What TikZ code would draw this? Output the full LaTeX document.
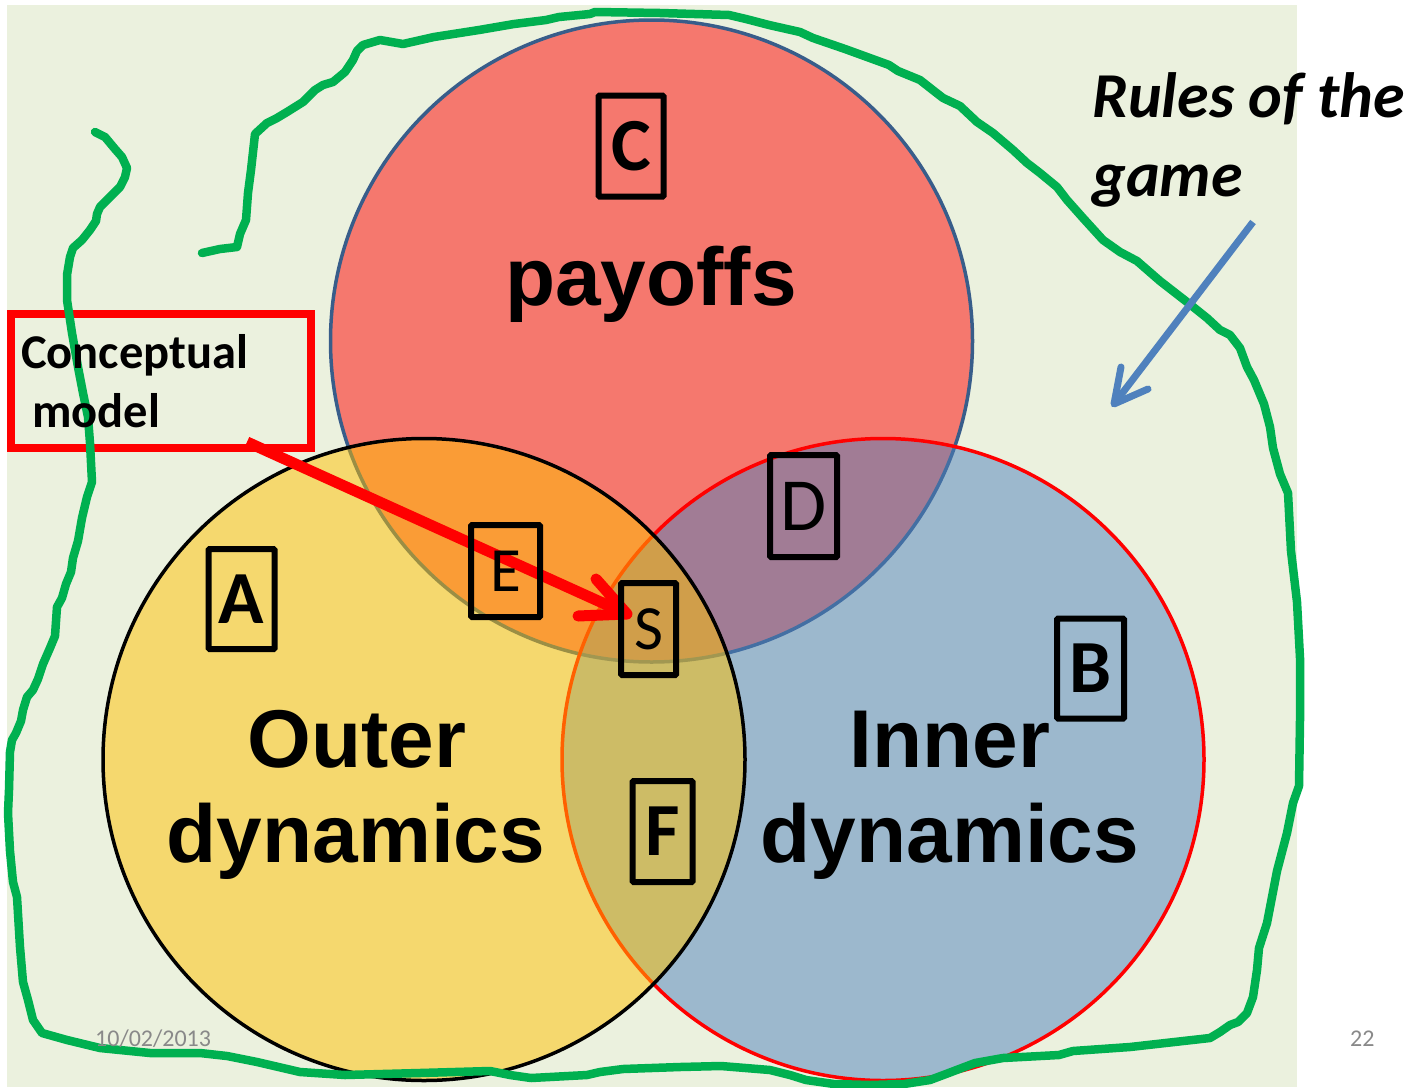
\documentclass[tikz,border=0pt]{standalone}
\usepackage{fontspec}
\setmainfont{Carlito}
\newfontfamily\arialfont{Liberation Sans}
\usetikzlibrary{calc}

\definecolor{slidebg}{RGB}{235,241,222}
\definecolor{gamegreen}{RGB}{0,176,80}
\definecolor{accentblue}{RGB}{79,129,189}
\definecolor{outlineblue}{RGB}{56,93,138}
\definecolor{amber}{RGB}{255,192,0}
\definecolor{footgray}{RGB}{137,137,137}

\tikzset{
  setcircle/.style={circle, inner sep=0pt, outer sep=0pt, minimum size=642pt,
    fill opacity=0.5, draw opacity=1, line width=3.5pt},
  letterbox/.style={draw, line width=6pt, rounded corners=1pt, inner sep=0pt,
    font=\fontsize{75}{75}\selectfont},
  smallbox/.style={letterbox, font=\fontsize{63}{63}\selectfont},
  biglabel/.style={anchor=base, inner sep=0pt, font=\arialfont\bfseries\fontsize{82}{82}\selectfont},
  notelabel/.style={anchor=base west, inner sep=0pt, font=\bfseries\fontsize{48.5}{48.5}\selectfont},
  ruleslabel/.style={anchor=base west, inner sep=0pt, font=\bfseries\itshape\fontsize{64}{64}\selectfont},
  footer/.style={anchor=base west, inner sep=0pt, text=footgray, font=\fontsize{24}{24}\selectfont},
  pointer/.style={line width=11pt, red},
  tipstroke/.style={line cap=round, line join=round},
}

\begin{document}
\begin{tikzpicture}[x=1pt,y=-1pt]
\useasboundingbox (0,0) rectangle (1416,1087);
\fill[white] (0,0) rectangle (1416,1087);
\fill[slidebg] (7,5) rectangle (1297,1087);

% the three overlapping sets
\node[setcircle, fill=red, draw=outlineblue] (payoffset) at (651.5,341) {};
\node[setcircle, fill=accentblue, draw=red] (innerset) at (883,759.5) {};
\node[setcircle, fill=amber, draw=black] (outerset) at (424,759.5) {};

% arrow from the conceptual model to S
\coordinate (rstart) at (247,442);
\coordinate (rtip) at (627,614);
\coordinate (rbarbA) at (596,579);
\coordinate (rbarbB) at (578,616);
\draw[pointer] (rstart) -- (rtip);
\draw[pointer, tipstroke] (rbarbA) -- (rtip) -- (rbarbB);

% lettered regions
\node[letterbox, minimum width=65pt, minimum height=101pt] (boxC) at (631,146) {\bfseries C};
\node[letterbox, minimum width=66pt, minimum height=100pt] (boxA) at (241.5,599) {\bfseries A};
\node[letterbox, minimum width=67pt, minimum height=100pt] (boxB) at (1090.5,668.5) {\bfseries B};
\node[letterbox, minimum width=60pt, minimum height=101pt] (boxF) at (662.5,831.5) {\bfseries F};
\node[letterbox, minimum width=67pt, minimum height=102pt] (boxD) at (803.5,506) {D};
\node[smallbox, minimum width=69pt, minimum height=92pt] (boxE) at (505.5,571) {E};
\node[smallbox, minimum width=55pt, minimum height=92pt] (boxS) at (648.5,629) {S};

% set names
\node[biglabel] (payofftext) at (651,305) {payoffs};
\node[biglabel] (outertextA) at (357,767) {Outer};
\node[biglabel] (outertextB) at (356,862) {dynamics};
\node[biglabel] (innertextA) at (950,767) {Inner};
\node[biglabel] (innertextB) at (950,862) {dynamics};

% conceptual model frame
\node[draw=red, line width=8pt, inner sep=0pt, minimum width=300pt, minimum height=134pt] (cmbox) at (161,381) {};

% rules of the game boundary
\draw[gamegreen, line width=8.5pt, line cap=round, line join=round]
  (95,132) -- (105,137) -- (115,149) -- (122,157) -- (127,168) -- (125,177) -- (120,187)
  -- (110,197) -- (100,207) -- (97,214) -- (96,221) -- (90,230) -- (82,240) -- (73,248)
  -- (70,257) -- (67,275) -- (67,300) -- (72,333) -- (78,367) -- (83,393) -- (88,417)
  -- (90,443) -- (92,482) -- (87,497) -- (82,518) -- (78,541) -- (73,558) -- (71,572)
  -- (66,584) -- (62,598) -- (57,607) -- (55,636) -- (50,648) -- (43,664) -- (38,679)
  -- (33,690) -- (27,697) -- (23,710) -- (21,721) -- (16,733) -- (12,740) -- (10,752)
  -- (9,790) -- (8,813) -- (10,851) -- (13,882) -- (17,897) -- (20,947) -- (23,982)
  -- (28,1000) -- (33,1020) -- (42,1033) -- (67,1040) -- (100,1048) -- (150,1053)
  -- (200,1053) -- (227,1056) -- (257,1062) -- (300,1072) -- (345,1075) -- (420,1073)
  -- (490,1071) -- (510,1075) -- (531,1078) -- (587,1075) -- (600,1072) -- (623,1069)
  -- (680,1067) -- (721,1066) -- (770,1070) -- (790,1075) -- (806,1080) -- (834,1084)
  -- (870,1085) -- (904,1084) -- (930,1080) -- (946,1074) -- (975,1063) -- (1003,1058)
  -- (1059,1055) -- (1073,1051) -- (1130,1047) -- (1210,1038) -- (1220,1032) -- (1230,1025)
  -- (1238,1022) -- (1247,1013) -- (1253,997) -- (1257,970) -- (1259,948) -- (1267,923)
  -- (1277,871) -- (1287,833) -- (1293,803) -- (1299,786) -- (1300,720) -- (1300,658)
  -- (1297,602) -- (1291,551) -- (1288,493) -- (1280,474) -- (1273,448) -- (1270,427)
  -- (1264,404) -- (1254,380) -- (1247,367) -- (1240,348) -- (1230,335) -- (1220,330)
  -- (1207,318) -- (1187,302) -- (1160,281) -- (1137,261) -- (1120,252) -- (1103,240)
  -- (1083,218) -- (1067,200) -- (1057,187) -- (1040,173) -- (1027,163) -- (1013,150)
  -- (993,133) -- (977,122) -- (960,106) -- (943,98) -- (934,91) -- (920,80) -- (898,71)
  -- (889,65) -- (845,49) -- (813,38) -- (800,32) -- (769,25) -- (746,19) -- (729,15)
  -- (660,13) -- (595,12) -- (590,14) -- (559,17) -- (546,20) -- (514,24) -- (479,30)
  -- (434,37) -- (403,44) -- (380,40) -- (363,45) -- (357,51) -- (353,60) -- (345,72)
  -- (333,82) -- (323,85) -- (315,90) -- (303,102) -- (287,112) -- (277,118) -- (267,123)
  -- (255,134) -- (251,170) -- (248,193) -- (246,220) -- (240,234) -- (237,247)
  -- (220,249) -- (202,253);

% conceptual model text
\node[notelabel] (cmtextA) at (21,368) {Conceptual};
\node[notelabel] (cmtextB) at (21,427) {\ model};

% rules of the game label and its arrow
\node[ruleslabel] (rulesA) at (1092,117) {Rules of the};
\node[ruleslabel] (rulesB) at (1092,196) {game};
\coordinate (bstart) at (1253,222);
\coordinate (btip) at (1114,404);
\coordinate (bbarbA) at (1121,367);
\coordinate (bbarbB) at (1148,389);
\draw[accentblue, line width=7pt] (bstart) -- (btip);
\draw[accentblue, line width=7pt, tipstroke] (bbarbA) -- (btip) -- (bbarbB);

% footer
\node[footer] (datetext) at (95,1046) {10/02/2013};
\node[footer] (pagetext) at (1350,1046) {22};
\end{tikzpicture}
\end{document}
